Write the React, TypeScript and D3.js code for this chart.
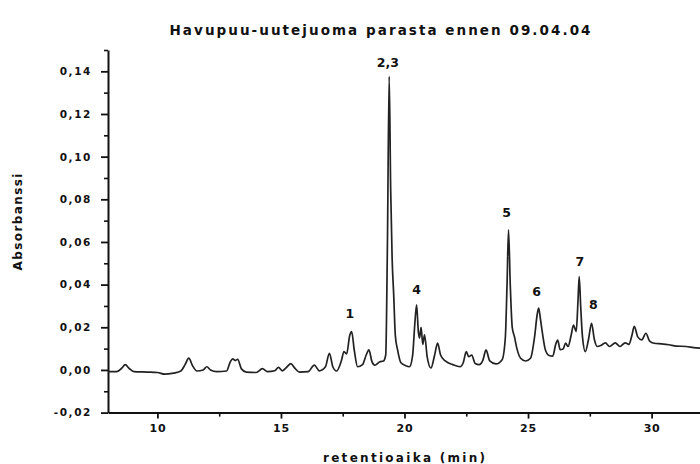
import React, { useRef, useEffect } from 'react';
import * as d3 from 'd3';

const title = 'Havupuu-uutejuoma parasta ennen 09.04.04';
const xLabel = 'retentioaika (min)';
const yLabel = 'Absorbanssi';

const xTicks = [10, 15, 20, 25, 30];
const xMinorTicks = [12.5, 17.5, 22.5, 27.5];
const yTicks = [-0.02, 0, 0.02, 0.04, 0.06, 0.08, 0.1, 0.12, 0.14];
const yMinorTicks = [-0.01, 0.01, 0.03, 0.05, 0.07, 0.09, 0.11, 0.13, 0.15];

// retention time (min) and absorbance
const times = [
  8.0, 8.35, 8.55, 8.7, 8.85, 9.05, 9.6, 10.0, 10.3, 10.65, 10.95, 11.12, 11.27, 11.42, 11.6,
  11.85, 12.0, 12.15, 12.4, 12.8, 12.95, 13.05, 13.15, 13.25, 13.4, 13.6, 14.0, 14.25, 14.45,
  14.75, 14.9, 15.05, 15.25, 15.4, 15.55, 15.75, 16.1, 16.35, 16.55, 16.8, 16.96, 17.1, 17.25,
  17.45, 17.55, 17.66, 17.78, 17.86, 17.97, 18.1, 18.3, 18.45, 18.56, 18.68, 18.8, 19.0, 19.15,
  19.24, 19.31, 19.38, 19.44, 19.5, 19.56, 19.63, 19.72, 19.85, 20.05, 20.2, 20.33, 20.42, 20.49,
  20.56, 20.61, 20.67, 20.74, 20.81, 20.92, 21.07, 21.22, 21.34, 21.46, 21.65, 21.95, 22.25,
  22.38, 22.5, 22.6, 22.72, 22.86, 23.02, 23.17, 23.3, 23.45, 23.7, 23.95, 24.08, 24.15, 24.21,
  24.28, 24.36, 24.45, 24.55, 24.7, 24.9, 25.1, 25.27, 25.37, 25.43, 25.5, 25.58, 25.7, 25.85,
  26.0, 26.12, 26.2, 26.3, 26.42, 26.52, 26.62, 26.74, 26.84, 26.95, 27.02, 27.07, 27.13, 27.2,
  27.32, 27.45, 27.57, 27.68, 27.8, 27.95, 28.13, 28.3, 28.53, 28.72, 28.93, 29.08, 29.2, 29.3,
  29.44, 29.6, 29.77, 29.92, 30.1, 30.4, 30.7, 31.0, 31.4, 31.7, 32.0,
];
const absorbance = [
  -0.0008, -0.0008, 0.0008, 0.0025, 0.0008, -0.0008, -0.001, -0.0012, -0.002, -0.0015, -0.0005, 0.0025, 0.0055, 0.002, -0.0005,
  0.0, 0.0015, 0.0, -0.0008, -0.0005, 0.0038, 0.0052, 0.0044, 0.005, 0.0005, -0.001, -0.0012, 0.0006, -0.0008,
  -0.0004, 0.0012, -0.0004, 0.0015, 0.003, 0.001, -0.001, -0.0008, 0.0023, -0.0004, 0.0015, 0.0078, 0.0015, -0.0005,
  0.0045, 0.0086, 0.0075, 0.016, 0.018, 0.009, 0.0015, 0.0025, 0.007, 0.0094, 0.004, 0.0022, 0.0038, 0.0042,
  0.007, 0.06, 0.1376, 0.085, 0.052, 0.036, 0.016, 0.0094, 0.0035, 0.002, 0.0015, 0.007, 0.022, 0.0305,
  0.018, 0.015, 0.02, 0.012, 0.0165, 0.006, 0.0009, 0.007, 0.0126, 0.007, 0.0042, 0.0025, 0.0015,
  0.0035, 0.0086, 0.0062, 0.007, 0.003, 0.0025, 0.0045, 0.0094, 0.0042, 0.0028, 0.0048, 0.015, 0.04, 0.0657,
  0.04, 0.02, 0.0156, 0.01, 0.0055, 0.0042, 0.0055, 0.016, 0.026, 0.029, 0.024, 0.0175, 0.0095, 0.0068,
  0.0065, 0.012, 0.014, 0.0095, 0.0098, 0.0126, 0.011, 0.016, 0.021, 0.018, 0.032, 0.0438, 0.03, 0.016,
  0.0086, 0.0145, 0.0219, 0.0145, 0.011, 0.0115, 0.0127, 0.011, 0.0127, 0.011, 0.0127, 0.012, 0.016, 0.0204,
  0.0155, 0.0141, 0.0172, 0.0135, 0.0125, 0.0122, 0.0118, 0.0112, 0.011, 0.0105, 0.0102,
];

// peak numbering, placed just above each peak
const peakLabels = ['1', '2,3', '4', '5', '6', '7', '8'];
const peakLabelTimes = [17.79, 19.33, 20.49, 24.13, 25.35, 27.1, 27.64];
const peakLabelValues = [0.0263, 0.1441, 0.0379, 0.0737, 0.0368, 0.0508, 0.0305];

const FONT = '"DejaVu Sans", Verdana, sans-serif';

const App = () => {
  const svgRef = useRef<SVGSVGElement>(null);

  useEffect(() => {
    const width = 700;
    const height = 464;

    const svg = d3.select(svgRef.current)
      .attr('width', width)
      .attr('height', height);

    svg.selectAll('*').remove();

    const x = d3.scaleLinear().domain([8, 32]).range([108, 701]);
    const y = d3.scaleLinear().domain([-0.02, 0.15]).range([412.6, 50]);

    const fmt = (d: number) => d.toFixed(2).replace('.', ',');

    // minor ticks first
    svg.append('g')
      .attr('transform', `translate(0, ${y(-0.02)})`)
      .call(d3.axisBottom(x).tickValues(xMinorTicks).tickSize(4).tickFormat(() => ''))
      .call(g => g.select('.domain').remove())
      .selectAll('line').attr('stroke', '#111').attr('stroke-width', 1.6);

    svg.append('g')
      .attr('transform', `translate(${x(8)}, 0)`)
      .call(d3.axisLeft(y).tickValues(yMinorTicks).tickSize(4).tickFormat(() => ''))
      .call(g => g.select('.domain').remove())
      .selectAll('line').attr('stroke', '#111').attr('stroke-width', 1.6);

    // X axis
    const gx = svg.append('g')
      .attr('transform', `translate(0, ${y(-0.02)})`)
      .call(d3.axisBottom(x).tickValues(xTicks).tickSize(6).tickSizeOuter(0).tickPadding(6).tickFormat(d => `${d}`));
    gx.select('.domain').attr('stroke', '#111').attr('stroke-width', 2);
    gx.selectAll('line').attr('stroke', '#111').attr('stroke-width', 1.8);
    gx.selectAll('text')
      .attr('fill', '#111')
      .style('font-family', FONT)
      .style('font-size', '11px')
      .style('font-weight', 'bold')
      .style('letter-spacing', '0.8px');

    // Y axis
    const gy = svg.append('g')
      .attr('transform', `translate(${x(8)}, 0)`)
      .call(d3.axisLeft(y).tickValues(yTicks).tickSize(7).tickSizeOuter(0).tickPadding(9).tickFormat(d => fmt(d as number)));
    gy.select('.domain').attr('stroke', '#111').attr('stroke-width', 2);
    gy.selectAll('line').attr('stroke', '#111').attr('stroke-width', 1.8);
    gy.selectAll('text')
      .attr('fill', '#111')
      .style('font-family', FONT)
      .style('font-size', '10.5px')
      .style('font-weight', 'bold')
      .style('letter-spacing', '1.6px');

    // trace
    const points = times.map((t, i) => [t, absorbance[i]] as [number, number]);
    const line = d3.line<[number, number]>()
      .x(d => x(d[0]))
      .y(d => y(d[1]))
      .curve(d3.curveMonotoneX);

    svg.append('path')
      .datum(points)
      .attr('d', line)
      .attr('fill', 'none')
      .attr('stroke', '#222')
      .attr('stroke-width', 1.7)
      .attr('stroke-linejoin', 'round');

    // peak labels
    svg.append('g')
      .selectAll('text')
      .data(peakLabels)
      .enter()
      .append('text')
      .attr('x', (d, i) => x(peakLabelTimes[i]))
      .attr('y', (d, i) => y(peakLabelValues[i]))
      .attr('dy', '0.36em')
      .attr('text-anchor', 'middle')
      .attr('fill', '#111')
      .style('font-family', FONT)
      .style('font-size', '12.5px')
      .style('font-weight', 'bold')
      .text(d => d);

    // title
    svg.append('text')
      .attr('x', 380)
      .attr('y', 35)
      .attr('text-anchor', 'middle')
      .attr('textLength', 421)
      .attr('lengthAdjust', 'spacing')
      .attr('fill', '#111')
      .style('font-family', FONT)
      .style('font-size', '13.5px')
      .style('font-weight', 'bold')
      .text(title);

    // axis labels
    svg.append('text')
      .attr('x', 404)
      .attr('y', 462)
      .attr('text-anchor', 'middle')
      .attr('textLength', 162)
      .attr('lengthAdjust', 'spacing')
      .attr('fill', '#111')
      .style('font-family', FONT)
      .style('font-size', '12px')
      .style('font-weight', 'bold')
      .text(xLabel);

    svg.append('text')
      .attr('transform', 'rotate(-90)')
      .attr('x', -222)
      .attr('y', 22)
      .attr('text-anchor', 'middle')
      .attr('textLength', 97)
      .attr('lengthAdjust', 'spacing')
      .attr('fill', '#111')
      .style('font-family', FONT)
      .style('font-size', '12px')
      .style('font-weight', 'bold')
      .text(yLabel);
  }, []);

  return <svg ref={svgRef} style={{ position: 'absolute', left: 0, top: 0, background: '#fff' }}></svg>;
};

export default App;
